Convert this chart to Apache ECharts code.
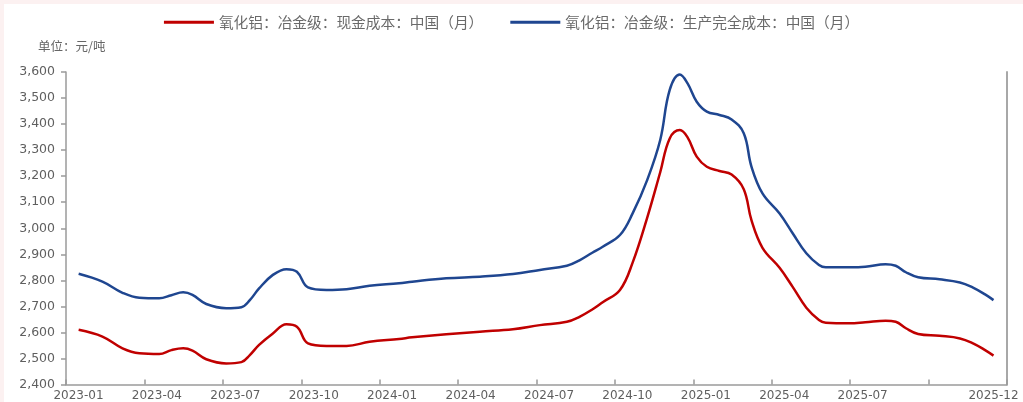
<!DOCTYPE html>
<html>
<head>
<meta charset="utf-8">
<script src="https://cdn.jsdelivr.net/npm/echarts@6/dist/echarts.min.js"></script>
<style>
  html, body { margin: 0; padding: 0; background: #ffffff; }
  #chart { width: 1023px; height: 402px; }
  .edge { position: absolute; background: #fcf1f1; pointer-events: none; }
</style>
</head>
<body>
<div id="chart"></div>
<div class="edge" style="left:0;top:0;width:1023px;height:4px;"></div>
<div class="edge" style="left:0;top:0;width:4px;height:402px;"></div>
<script>
// Observation dates
const dates = [
  '2023-01-16','2023-02-12','2023-03-06','2023-03-26','2023-04-18','2023-05-02',
  '2023-05-16','2023-05-27','2023-06-12','2023-07-05','2023-07-23','2023-08-02',
  '2023-08-13','2023-08-29','2023-09-14','2023-09-26','2023-10-09','2023-10-31',
  '2023-11-23','2023-12-20','2024-01-24','2024-02-08','2024-03-18','2024-04-26',
  '2024-06-04','2024-07-05','2024-08-06','2024-08-21','2024-09-05','2024-09-17',
  '2024-10-07','2024-10-22','2024-11-08','2024-11-23','2024-12-04','2024-12-16',
  '2024-12-25','2025-01-05','2025-01-17','2025-02-01','2025-02-14','2025-02-27',
  '2025-03-08','2025-03-21','2025-04-10','2025-04-25','2025-05-11','2025-05-26',
  '2025-06-03','2025-06-30','2025-07-19','2025-08-12','2025-08-24','2025-09-05',
  '2025-09-19','2025-10-14','2025-11-07','2025-11-22','2025-12-06','2025-12-16'
];

// 氧化铝：冶金级：现金成本（元/吨）
const cashCost = [
  2610, 2584, 2539, 2520, 2517, 2532,
  2539, 2530, 2497, 2481, 2486, 2513,
  2552, 2595, 2631, 2622, 2558, 2548,
  2548, 2564, 2575, 2581, 2593, 2603,
  2612, 2628, 2641, 2660, 2688, 2716,
  2763, 2868, 3040, 3215, 3345, 3377,
  3350, 3275, 3236, 3220, 3206, 3150,
  3030, 2925, 2848, 2775, 2695, 2648,
  2637, 2635, 2639, 2645, 2641, 2616,
  2594, 2587, 2577, 2558, 2532, 2511
];

// 氧化铝：冶金级：生产完全成本（元/吨）
const fullCost = [
  2825, 2795, 2752, 2733, 2731, 2743,
  2754, 2744, 2709, 2693, 2697, 2724,
  2769, 2820, 2843, 2833, 2773, 2763,
  2766, 2779, 2789, 2795, 2808, 2814,
  2824, 2840, 2856, 2877, 2906, 2929,
  2974, 3057, 3185, 3339, 3531, 3590,
  3557, 3486, 3448, 3435, 3418, 3365,
  3236, 3134, 3057, 2981, 2904, 2859,
  2850, 2850, 2852, 2862, 2856, 2831,
  2812, 2804, 2792, 2772, 2746, 2724
];

const seriesNames = ['氧化铝：冶金级：现金成本：中国（月）', '氧化铝：冶金级：生产完全成本：中国（月）'];
const seriesColors = ['#c00000', '#1f4690'];
const unitText = '单位：元/吨';

const startYear = 2023;
const monthCount = 36;          // 2023-01 … 2025-12
const hiddenTickLabel = 33;     // 2025-10 tick carries no label

// Position of a date on the month scale (0 = 2023-01-01)
function monthPos(s) {
  const [y, m, d] = s.split('-').map(Number);
  const days = new Date(y, m, 0).getDate();
  return (y - startYear) * 12 + (m - 1) + (d - 1) / days;
}
function monthLabel(idx) {
  const y = startYear + Math.floor(idx / 12);
  const m = idx % 12 + 1;
  return y + '-' + String(m).padStart(2, '0');
}
const toPairs = vals => dates.map((d, i) => [monthPos(d), vals[i]]);

const chart = echarts.init(document.getElementById('chart'), null, { renderer: 'canvas' });

const axisGrey = '#9a9a9a';
const labelGrey = '#5f5f5f';

chart.setOption({
  backgroundColor: 'transparent',
  animation: false,
  legend: {
    top: 10,
    left: 'center',
    icon: 'rect',
    itemWidth: 50,
    itemHeight: 3,
    itemGap: 27,
    textStyle: { fontFamily: 'Noto Sans CJK SC', fontSize: 14.7, color: '#6a6a6a' },
    data: seriesNames
  },
  graphic: [{
    type: 'text',
    left: 38,
    top: 40,
    style: { text: unitText, font: '12.5px "Noto Sans CJK SC"', fill: '#666666' }
  }],
  grid: {
    left: 66, right: 16, top: 72, bottom: 17.5,
    containLabel: false,
    outerBoundsMode: 'none'
  },
  xAxis: {
    type: 'value',
    min: 0,
    max: monthCount,
    interval: 3,
    splitLine: { show: false },
    axisLine: { lineStyle: { color: axisGrey, width: 1.5 } },
    axisTick: { show: true, inside: true, length: 5, lineStyle: { color: axisGrey, width: 1.5 } },
    axisLabel: {
      margin: 5,
      showMinLabel: true,
      showMaxLabel: true,
      fontFamily: 'DejaVu Sans',
      fontSize: 12,
      color: labelGrey,
      formatter: v => {
        if (v === hiddenTickLabel) return '';
        if (v === monthCount) return '{e|' + monthLabel(monthCount - 1) + '}';
        return '{a|' + monthLabel(v) + '}';
      },
      rich: {
        a: { padding: [0, 0, 0, 25], fontFamily: 'DejaVu Sans', fontSize: 12, color: labelGrey },
        e: { padding: [0, 27, 0, 0], fontFamily: 'DejaVu Sans', fontSize: 12, color: labelGrey }
      }
    }
  },
  yAxis: [{
    type: 'value',
    min: 2400,
    max: 3600,
    interval: 100,
    splitLine: { show: false },
    axisLine: { show: true, lineStyle: { color: axisGrey, width: 1.5 } },
    axisTick: { show: true, length: 5, lineStyle: { color: axisGrey, width: 1.5 } },
    axisLabel: {
      margin: 11,
      fontFamily: 'DejaVu Sans',
      fontSize: 12.5,
      color: labelGrey,
      formatter: v => v.toLocaleString('en-US')
    }
  }, {
    type: 'value',
    position: 'right',
    min: 2400,
    max: 3600,
    splitLine: { show: false },
    axisLine: { show: true, lineStyle: { color: '#a8a8a8', width: 2 } },
    axisTick: { show: false },
    axisLabel: { show: false }
  }],
  series: [{
    name: seriesNames[0],
    type: 'line',
    data: toPairs(cashCost),
    smooth: 0.4,
    symbol: 'none',
    itemStyle: { color: seriesColors[0] },
    lineStyle: { color: seriesColors[0], width: 2.5 }
  }, {
    name: seriesNames[1],
    type: 'line',
    data: toPairs(fullCost),
    smooth: 0.4,
    symbol: 'none',
    itemStyle: { color: seriesColors[1] },
    lineStyle: { color: seriesColors[1], width: 2.5 }
  }]
});
</script>
</body>
</html>
